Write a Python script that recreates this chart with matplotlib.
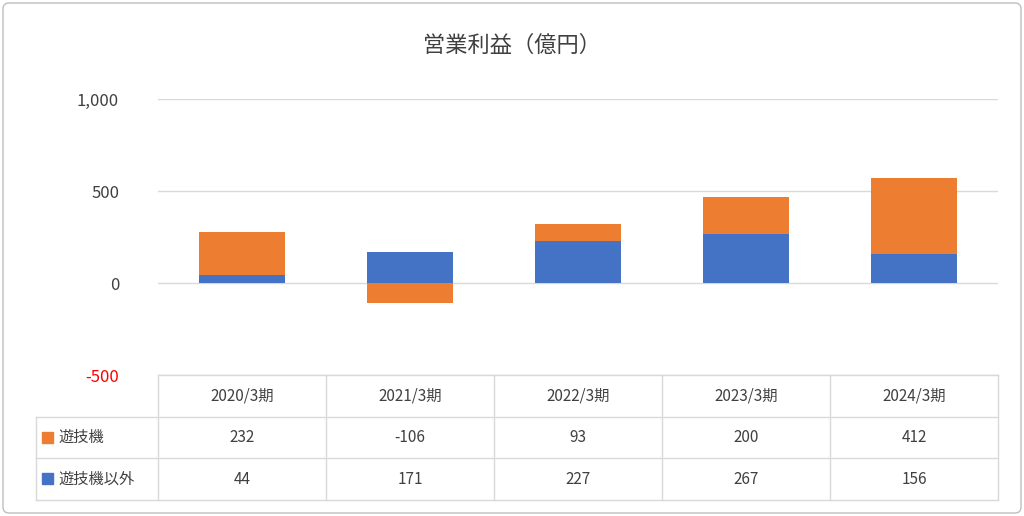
import matplotlib.pyplot as plt
from matplotlib.patches import Rectangle, FancyBboxPatch

plt.rcParams["font.family"] = "Noto Sans CJK JP"

# データ
periods = ["2020/3期", "2021/3期", "2022/3期", "2023/3期", "2024/3期"]
yugiki = [232, -106, 93, 200, 412]
yugiki_igai = [44, 171, 227, 267, 156]
series_names = ["遊技機", "遊技機以外"]
c_orange = "#ED7D31"
c_blue = "#4472C4"
grid_c = "#D9D9D9"
txt_c = "#404040"

W, H = 1024, 516
fig = plt.figure(figsize=(W / 100, H / 100), dpi=100)

# 枠と表用のピクセル座標軸
tax = fig.add_axes([0, 0, 1, 1])
tax.set_xlim(0, W)
tax.set_ylim(H, 0)
tax.axis("off")
tax.add_patch(FancyBboxPatch((3, 3), W - 6, H - 6, boxstyle="round,pad=0,rounding_size=6",
                             fill=False, edgecolor="#BFBFBF", lw=1))

# グラフ本体
x0, x1, ytop, ybot = 158, 998, 99, 375
ax = fig.add_axes([x0 / W, 1 - ybot / H, (x1 - x0) / W, (ybot - ytop) / H])
ax.set_zorder(2)
ax.patch.set_alpha(0)
x = range(len(periods))
ax.bar(x, yugiki_igai, width=0.51, color=c_blue, zorder=3)
bottoms = [b if v >= 0 else 0 for v, b in zip(yugiki, yugiki_igai)]
ax.bar(x, yugiki, width=0.51, bottom=bottoms, color=c_orange, zorder=3)
ax.set_xlim(-0.5, len(periods) - 0.5)
ax.set_ylim(-500, 1000)
ax.set_yticks([-500, 0, 500, 1000])
ax.set_yticklabels(["-500", "0", "500", "1,000"])
ax.grid(axis="y", color=grid_c, lw=1, zorder=0)
ax.set_xticks([])
for s in ax.spines.values():
    s.set_visible(False)
ax.tick_params(axis="y", length=0, pad=28, labelsize=12, labelcolor=txt_c)
ax.get_yticklabels()[0].set_color("red")

fig.text(0.5, 1 - 45 / H, "営業利益（億円）", ha="center", va="center", fontsize=16, color=txt_c)

# データテーブル
cw = (x1 - x0) / len(periods)
rows = [375, 417, 458, 500]
tax.plot([x0, x1], [rows[0]] * 2, color=grid_c, lw=1)
for r in rows[1:]:
    tax.plot([36, x1], [r, r], color=grid_c, lw=1)
tax.plot([36, 36], [rows[1], rows[3]], color=grid_c, lw=1)
for i in range(len(periods) + 1):
    tax.plot([x0 + i * cw] * 2, [rows[0], rows[3]], color=grid_c, lw=1)

for i, p in enumerate(periods):
    cx = x0 + (i + 0.5) * cw
    tax.text(cx, (rows[0] + rows[1]) / 2, p, ha="center", va="center", fontsize=11, color=txt_c)
    tax.text(cx, (rows[1] + rows[2]) / 2, str(yugiki[i]), ha="center", va="center", fontsize=11, color=txt_c)
    tax.text(cx, (rows[2] + rows[3]) / 2, str(yugiki_igai[i]), ha="center", va="center", fontsize=11, color=txt_c)

for j, (name, c) in enumerate(zip(series_names, [c_orange, c_blue])):
    cy = (rows[j + 1] + rows[j + 2]) / 2
    tax.add_patch(Rectangle((42, cy - 6), 11, 11, color=c))
    tax.text(58, cy, name, ha="left", va="center", fontsize=11, color=txt_c)

fig.savefig("out.png", dpi=100)
